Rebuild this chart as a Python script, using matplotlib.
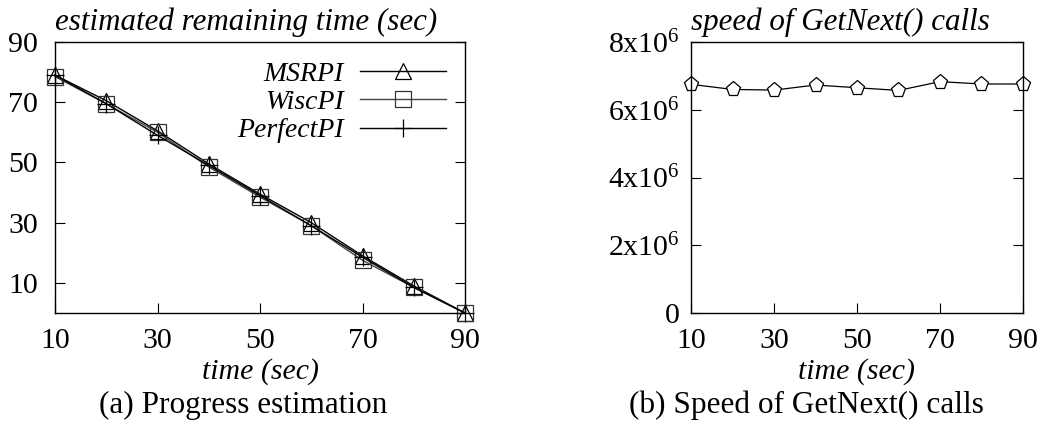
import numpy as np
import matplotlib
matplotlib.use("Agg")
import matplotlib.pyplot as plt

######################## DATA ##################################################
time = [10, 20, 30, 40, 50, 60, 70, 80, 90]
msrpi = [79, 70.5, 60.5, 49.5, 39.5, 30, 19, 9, 0]
wiscpi = [78.5, 69.5, 60, 48.5, 38.5, 29, 17.5, 8.5, 0]
perfectpi = [79, 69.5, 59, 49, 39, 29, 18.5, 8.5, 0]
getnext_speed = [6.75e6, 6.6e6, 6.58e6, 6.73e6, 6.65e6, 6.57e6, 6.83e6, 6.76e6, 6.76e6]

xticks = [10, 30, 50, 70, 90]
yticks_a = [10, 30, 50, 70, 90]
yticks_b = [0, 2e6, 4e6, 6e6, 8e6]
ylabels_b = ['0', r'2x10$^{6}$', r'4x10$^{6}$', r'6x10$^{6}$', r'8x10$^{6}$']
################################################################################

fs = 21.5   # tick / label fontsize
fs_title = 22.3
fs_leg = 20
plt.rcParams['font.family'] = ['Liberation Serif', 'DejaVu Serif']
plt.rcParams['mathtext.fontset'] = 'custom'
plt.rcParams['mathtext.rm'] = 'Liberation Serif'
plt.rcParams['mathtext.it'] = 'Liberation Serif:italic'

fig = plt.figure(figsize=(10.55, 4.33), dpi=100)
ax1 = fig.add_axes([55/1055, 1-313/433, 410/1055, 271/433])
ax2 = fig.add_axes([691/1055, 1-313/433, 332/1055, 271/433])

for ax in (ax1, ax2):
    ax.tick_params(direction='in', length=7, width=0.8, labelsize=fs,
                   right=True, top=False)
    ax.tick_params(axis='x', pad=11)
    for s in ax.spines.values():
        s.set_linewidth(1.0)
    ax.set_xlim(10, 90)
    ax.set_xticks(xticks)
    ax.set_xlabel('time (sec)', fontsize=fs, style='italic', va='center')
    ax.xaxis.set_label_coords(0.5, -(372-313)/271)

# (a) progress estimation
ax1.plot(time, msrpi, color='black', lw=1.0, marker='^', ms=11, mfc='none',
         mec='black', mew=0.9, label='MSRPI', clip_on=False)
ax1.plot(time, wiscpi, color='#444444', lw=1.0, marker='s', ms=11, mfc='none',
         mec='#333333', mew=0.9, label='WiscPI', clip_on=False)
ax1.plot(time, perfectpi, color='black', lw=1.0, marker='+', ms=13,
         mew=0.9, label='PerfectPI', clip_on=False)
ax1.set_ylim(0, 90)
ax1.set_yticks(yticks_a)
ax1.tick_params(axis='y', pad=12)
ax1.legend(loc='upper right', bbox_to_anchor=(0.995, 0.99), frameon=False,
           markerfirst=False, handlelength=3.1, labelspacing=0.1,
           handletextpad=0.6, borderaxespad=0.2,
           prop={'size': fs_leg, 'style': 'italic'})
ax1.text(0.0, 1.02, 'estimated remaining time (sec)', transform=ax1.transAxes,
         fontsize=fs_title, style='italic', ha='left', va='bottom')
fig.text(243/1055, 1-405/433, '(a) Progress estimation', fontsize=fs + 1,
         ha='center', va='center')

# (b) speed of GetNext() calls
ax2.plot(time, getnext_speed, color='black', lw=0.9, marker='p', ms=11,
         mfc='white', mec='black', mew=0.9, clip_on=False)
ax2.set_ylim(0, 8e6)
ax2.set_yticks(yticks_b)
ax2.set_yticklabels(ylabels_b)
ax2.tick_params(axis='y', pad=8)
ax2.text(0.0, 1.02, 'speed of GetNext() calls', transform=ax2.transAxes,
         fontsize=fs_title, style='italic', ha='left', va='bottom')
fig.text(806/1055, 1-405/433, '(b) Speed of GetNext() calls', fontsize=fs + 1,
         ha='center', va='center')

plt.savefig('out.png', dpi=100)
